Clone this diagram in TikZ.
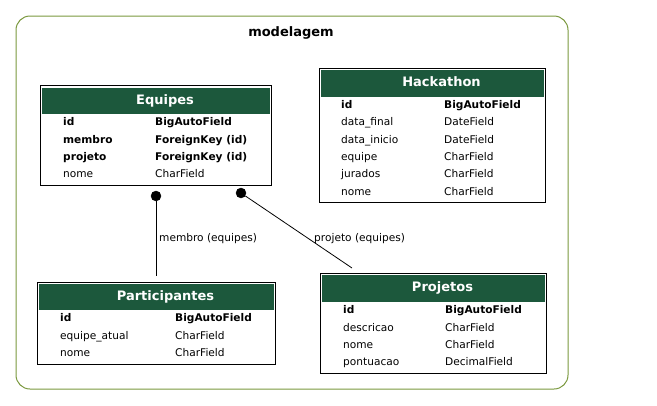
\documentclass[tikz,border=0pt]{standalone}
\usepackage{fontspec}
\setmainfont{DejaVu Sans}
\usetikzlibrary{positioning}
\definecolor{hdrgreen}{RGB}{28,88,60}
\definecolor{clustergreen}{RGB}{122,152,62}
\tikzset{
	cluster/.style={draw=clustergreen, line width=1pt, rounded corners=14pt},
	tbl/.style={draw, line width=1pt, inner sep=0pt},
	hdr/.style={fill=hdrgreen, inner sep=0pt},
	hdrtxt/.style={text=white, inner sep=0pt, xshift=9pt, text height=9.5pt, text depth=3pt, font=\fontsize{13}{15}\selectfont\bfseries},
	fld/.style={anchor=west, inner sep=0pt, text height=9.4pt, text depth=1pt, font=\fontsize{10.6}{12}\selectfont},
	key/.style={fld, font=\fontsize{10.6}{12}\selectfont\bfseries},
	dot/.style={fill, draw, circle, minimum size=10pt, inner sep=0pt},
	rel/.style={draw, line width=0.8pt}
}
\begin{document}
\begin{tikzpicture}[x=1pt, y=-1pt]
\useasboundingbox (0,0) rectangle (657,405);
\draw[cluster] (16,16) rectangle (568,389);
\node[font=\fontsize{13}{15}\selectfont\bfseries] (title) at (291,33) {modelagem};

% Equipes
\node[tbl, minimum width=231pt, minimum height=100pt] (eq) at (155.5,135) {};
\node[hdr, minimum width=228pt, minimum height=26pt, label={[hdrtxt]center:Equipes}] (eqH) at (156,101) {};
\node[key] (eq1a) at (63,121) {id};
\node[key] (eq1b) at (155,121) {BigAutoField};
\node[key] (eq2a) at (63,139) {membro};
\node[key] (eq2b) at (155,139) {ForeignKey (id)};
\node[key] (eq3a) at (63,156) {projeto};
\node[key] (eq3b) at (155,156) {ForeignKey (id)};
\node[fld] (eq4a) at (63,173) {nome};
\node[fld] (eq4b) at (155,173) {CharField};

% Hackathon
\node[tbl, minimum width=226pt, minimum height=134pt] (hk) at (432,135) {};
\node[hdr, minimum width=223pt, minimum height=27pt, label={[hdrtxt]center:Hackathon}] (hkH) at (432.5,83.5) {};
\node[key] (hk1a) at (341,104) {id};
\node[key] (hk1b) at (444,104) {BigAutoField};
\node[fld] (hk2a) at (341,121) {data\_final};
\node[fld] (hk2b) at (444,121) {DateField};
\node[fld] (hk3a) at (341,139) {data\_inicio};
\node[fld] (hk3b) at (444,139) {DateField};
\node[fld] (hk4a) at (341,156) {equipe};
\node[fld] (hk4b) at (444,156) {CharField};
\node[fld] (hk5a) at (341,173) {jurados};
\node[fld] (hk5b) at (444,173) {CharField};
\node[fld] (hk6a) at (341,191) {nome};
\node[fld] (hk6b) at (444,191) {CharField};

% Participantes
\node[tbl, minimum width=238pt, minimum height=82pt] (pa) at (156,323) {};
\node[hdr, minimum width=235pt, minimum height=26pt, label={[hdrtxt]center:Participantes}] (paH) at (156.5,297) {};
\node[key] (pa1a) at (60,317) {id};
\node[key] (pa1b) at (175,317) {BigAutoField};
\node[fld] (pa2a) at (60,335) {equipe\_atual};
\node[fld] (pa2b) at (175,335) {CharField};
\node[fld] (pa3a) at (60,352) {nome};
\node[fld] (pa3b) at (175,352) {CharField};

% Projetos
\node[tbl, minimum width=226pt, minimum height=100pt] (pr) at (433,323) {};
\node[hdr, minimum width=223pt, minimum height=27pt, label={[hdrtxt]center:Projetos}] (prH) at (433.5,288.5) {};
\node[key] (pr1a) at (343,309) {id};
\node[key] (pr1b) at (445,309) {BigAutoField};
\node[fld] (pr2a) at (343,327) {descricao};
\node[fld] (pr2b) at (445,327) {CharField};
\node[fld] (pr3a) at (343,344) {nome};
\node[fld] (pr3b) at (445,344) {CharField};
\node[fld] (pr4a) at (343,361) {pontuacao};
\node[fld] (pr4b) at (445,361) {DecimalField};

% relations
\node[dot] (membroDot) at (156,196) {};
\coordinate (membroEnd) at (156,276);
\node[dot] (projetoDot) at (241,193) {};
\coordinate (projetoEnd) at (352,268);
\draw[rel] (membroDot) -- (membroEnd);
\draw[rel] (projetoDot) -- (projetoEnd);
\node[fld] (membroLbl) at (159,237) {membro (equipes)};
\node[fld] (projetoLbl) at (314,237) {projeto (equipes)};
\end{tikzpicture}
\end{document}
